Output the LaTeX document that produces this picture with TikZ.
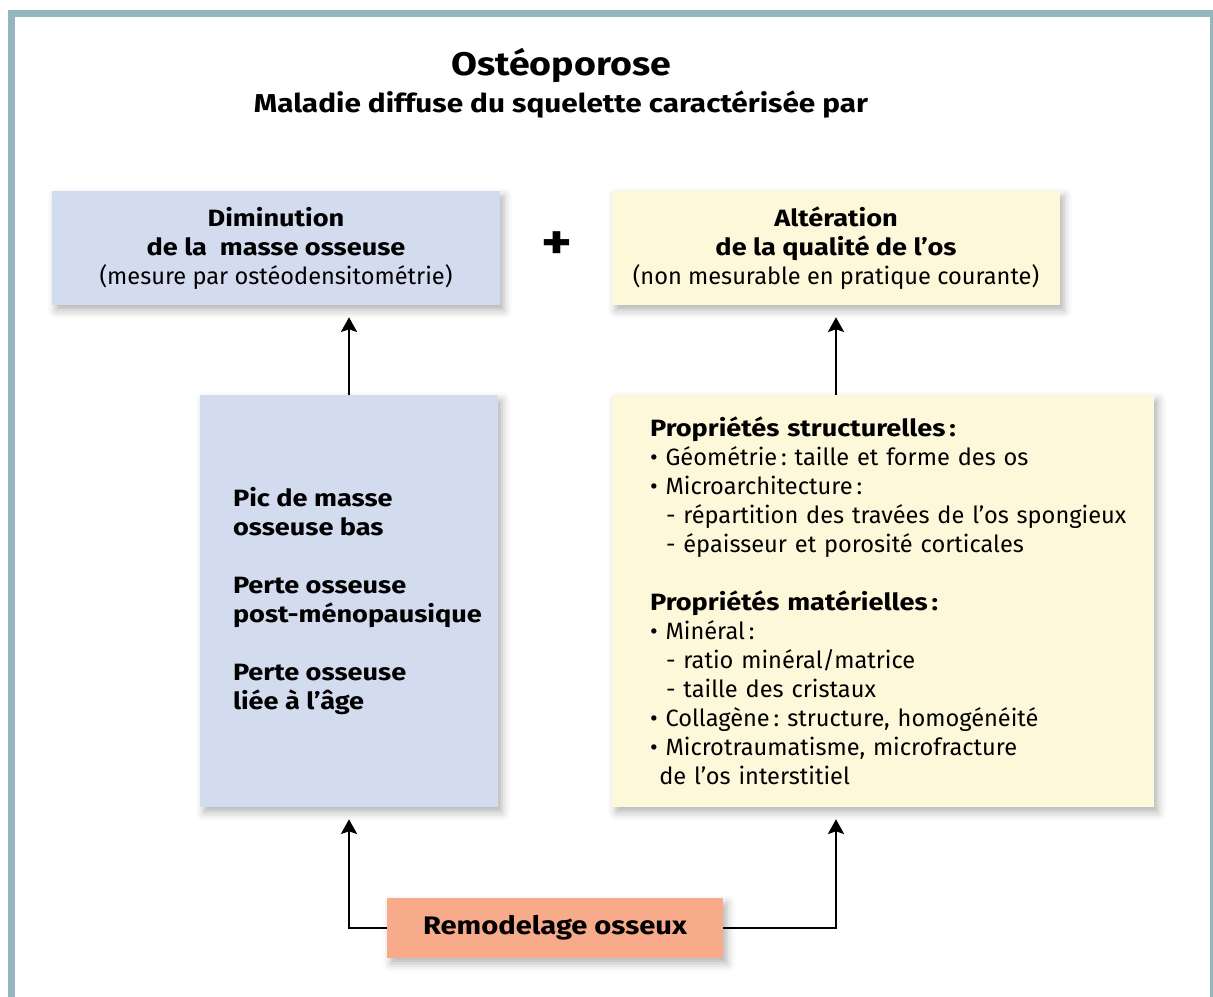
\documentclass[tikz,border=0pt]{standalone}
\usepackage{fontspec}
\setmainfont{Fira Sans}[BoldFeatures={FakeStretch=1.15}]
\usepackage{xcolor}
\usetikzlibrary{arrows.meta}
\usetikzlibrary{shadows,shadows.blur}
\usetikzlibrary{positioning}

\definecolor{cadre}{HTML}{95B6BF}
\definecolor{bleu}{HTML}{D3DBEF}
\definecolor{jaune}{HTML}{FEF8DA}
\definecolor{saumon}{HTML}{F7AB8A}

\tikzset{
  boite/.style={inner sep=0pt, align=center,
    blur shadow={shadow xshift=3pt, shadow yshift=-4pt, shadow blur radius=6pt, shadow opacity=30}},
  texte/.style={font=\fontsize{17.7}{21.75}\selectfont},
  fleche/.style={line width=2pt, -{Stealth[length=11pt,width=12pt,inset=2pt]}, shorten >=9pt}
}

\begin{document}
\frenchspacing
\begin{tikzpicture}[x=0.75pt, y=-0.75pt]
	\useasboundingbox (0,0) rectangle (1213,996);
	% cadre
	\draw[cadre, line width=5pt] (11.5,1000) -- (11.5,13.5) -- (1213.5,13.5) -- (1213.5,1000);
	% titre
	\node[font=\fontsize{24.5}{28}\selectfont\bfseries] (titre) at (561,65) {Ostéoporose};
	\node[font=\fontsize{19.4}{22}\selectfont\bfseries] (soustitre) at (561,105) {Maladie diffuse du squelette caractérisée par};
	% boites du haut
	\node[boite, texte, fill=bleu, minimum width=336pt, minimum height=85.5pt] (masse) at (276,248)
		{\textbf{Diminution}\\ \textbf{de la \ masse osseuse}\\ (mesure par ostéodensitométrie)};
	\node[boite, texte, fill=jaune, minimum width=336pt, minimum height=85.5pt] (qualite) at (836,248)
		{\textbf{Altération}\\ \textbf{de la qualité de l’os}\\ (non mesurable en pratique courante)};
	\node[font=\fontsize{38}{38}\selectfont\bfseries] (plus) at (557,246) {+};
	% boites du milieu
	\node[boite, fill=bleu, minimum width=223.5pt, minimum height=309pt] (causes) at (349,601) {};
	\node[anchor=west, align=left, font=\fontsize{17.7}{21.75}\selectfont\bfseries, inner sep=0pt] (causestxt)
		at ([xshift=24.75pt]causes.west)
		{Pic de masse\\ osseuse bas\\[21.75pt] Perte osseuse\\ post-ménopausique\\[21.75pt] Perte osseuse\\ liée à l’âge};
	\node[boite, texte, fill=jaune, minimum width=406.5pt, minimum height=309pt, align=left,
		text width=349.5pt, inner xsep=28.5pt] (proprietes) at (883,601)
		{\textbf{Propriétés structurelles\,:}\\
		 • Géométrie\,: taille et forme des os\\
		 • Microarchitecture\,:\\
		 \mbox{\hspace*{12pt}- répartition des travées de l’os spongieux}\\
		 \hspace*{12pt}- épaisseur et porosité corticales\\[21.75pt]
		 \textbf{Propriétés matérielles\,:}\\
		 • Minéral\,:\\
		 \hspace*{12pt}- ratio minéral/matrice\\
		 \hspace*{12pt}- taille des cristaux\\
		 • Collagène\,: structure, homogénéité\\
		 • Microtraumatisme, microfracture\\
		 \hspace*{7pt}de l’os interstitiel};
	% boite du bas
	\node[boite, fill=saumon, minimum width=252pt, minimum height=45pt,
		font=\fontsize{19}{22}\selectfont\bfseries] (remodelage) at (555,928) {Remodelage osseux};
	% fleches
	\draw[fleche] (causes.north) -- (causes.north |- masse.south);
	\draw[fleche] (qualite.south |- proprietes.north) -- (qualite.south);
	\draw[fleche] (remodelage.west) -| (causes.south);
	\draw[fleche] (remodelage.east) -| (qualite.south |- proprietes.south);
\end{tikzpicture}
\end{document}
